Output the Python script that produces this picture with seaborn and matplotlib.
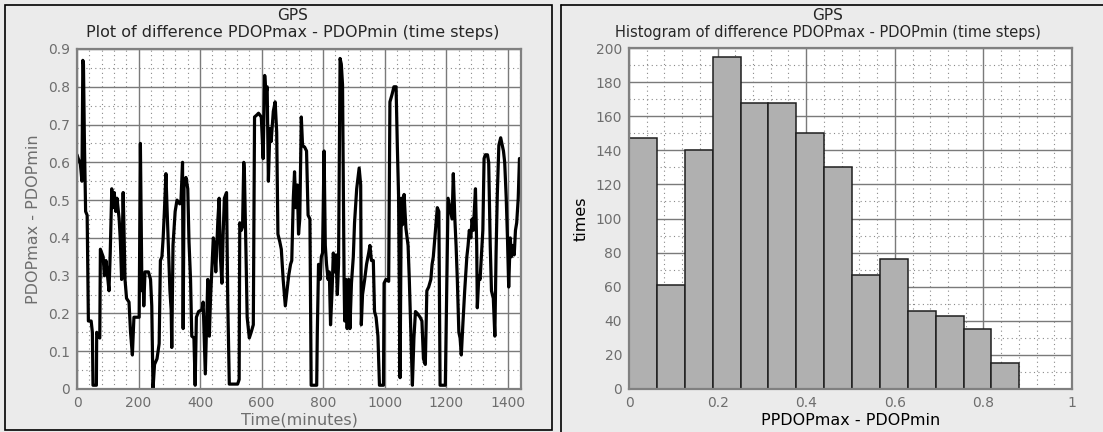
import numpy as np
import pandas as pd
import matplotlib
matplotlib.use("Agg")
import matplotlib.pyplot as plt
from matplotlib.patches import Rectangle
from matplotlib.lines import Line2D
from matplotlib.ticker import MultipleLocator
import seaborn as sns

# PDOPmax - PDOPmin over one day (minutes since midnight)
minutes = [
    0, 4, 11, 16, 19, 21, 24, 28, 33, 37, 46, 50, 52, 63, 64, 70, 74, 76, 85, 89,
    94, 98, 104, 108, 113, 117, 121, 126, 130, 137, 141, 145, 150, 152, 156, 161, 169, 174, 180, 185,
    195, 202, 206, 211, 215, 217, 221, 232, 239, 243, 247, 252, 260, 267, 271, 276, 280, 284, 289, 293,
    297, 302, 306, 308, 312, 319, 325, 334, 338, 343, 345, 348, 354, 360, 364, 369, 373, 380, 384, 388,
    395, 406, 410, 417, 421, 425, 430, 434, 438, 443, 447, 451, 458, 462, 466, 471, 475, 479, 486, 490,
    495, 522, 527, 529, 534, 538, 542, 544, 549, 553, 560, 566, 573, 577, 584, 590, 599, 605, 610, 614,
    618, 622, 627, 631, 638, 644, 649, 653, 659, 664, 670, 677, 681, 688, 694, 698, 703, 707, 711, 716,
    720, 724, 729, 733, 740, 746, 751, 757, 761, 779, 781, 785, 790, 794, 798, 803, 807, 811, 816, 820,
    824, 829, 833, 837, 842, 846, 850, 855, 859, 863, 868, 870, 874, 878, 883, 887, 892, 898, 902, 909,
    917, 922, 924, 928, 935, 941, 948, 952, 957, 963, 967, 972, 978, 983, 996, 998, 1004, 1013, 1017, 1024,
    1030, 1037, 1041, 1045, 1050, 1054, 1058, 1063, 1069, 1076, 1080, 1085, 1090, 1095, 1100, 1106, 1115, 1121, 1126, 1132,
    1137, 1143, 1150, 1154, 1158, 1165, 1171, 1176, 1180, 1197, 1202, 1206, 1212, 1219, 1223, 1228, 1232, 1236, 1241, 1245,
    1249, 1254, 1260, 1267, 1271, 1275, 1280, 1284, 1288, 1295, 1299, 1301, 1306, 1310, 1314, 1319, 1323, 1327, 1334, 1338,
    1343, 1347, 1353, 1358, 1362, 1366, 1371, 1377, 1382, 1386, 1390, 1395, 1399, 1403, 1408, 1412, 1416, 1421, 1425, 1429,
    1434, 1438, 1440,
]
pdop_diff = [
    0.62, 0.61, 0.595, 0.55, 0.87, 0.86, 0.66, 0.47, 0.46, 0.18, 0.18, 0.15, 0.01, 0.01, 0.15, 0.14, 0.135, 0.37, 0.35, 0.30,
    0.34, 0.31, 0.26, 0.36, 0.53, 0.48, 0.52, 0.47, 0.505, 0.45, 0.39, 0.29, 0.52, 0.45, 0.29, 0.24, 0.23, 0.15, 0.09, 0.19,
    0.19, 0.19, 0.65, 0.26, 0.29, 0.22, 0.31, 0.31, 0.29, 0.22, 0.00, 0.065, 0.08, 0.12, 0.34, 0.35, 0.40, 0.47, 0.57, 0.47,
    0.38, 0.26, 0.21, 0.11, 0.38, 0.47, 0.50, 0.49, 0.50, 0.60, 0.16, 0.54, 0.56, 0.53, 0.39, 0.29, 0.14, 0.135, 0.01, 0.19,
    0.205, 0.21, 0.23, 0.04, 0.16, 0.29, 0.14, 0.24, 0.31, 0.40, 0.38, 0.31, 0.45, 0.505, 0.35, 0.28, 0.41, 0.505, 0.52, 0.23,
    0.013, 0.013, 0.025, 0.44, 0.42, 0.43, 0.60, 0.575, 0.37, 0.19, 0.135, 0.15, 0.17, 0.72, 0.725, 0.73, 0.72, 0.61, 0.83, 0.78,
    0.80, 0.55, 0.69, 0.655, 0.735, 0.76, 0.68, 0.41, 0.39, 0.37, 0.29, 0.22, 0.25, 0.30, 0.33, 0.34, 0.505, 0.575, 0.48, 0.54,
    0.41, 0.45, 0.72, 0.645, 0.64, 0.63, 0.46, 0.45, 0.01, 0.01, 0.15, 0.33, 0.29, 0.35, 0.36, 0.63, 0.38, 0.33, 0.29, 0.31,
    0.17, 0.26, 0.36, 0.31, 0.355, 0.25, 0.33, 0.875, 0.86, 0.805, 0.29, 0.18, 0.29, 0.16, 0.29, 0.16, 0.28, 0.35, 0.44, 0.53,
    0.585, 0.54, 0.17, 0.25, 0.29, 0.33, 0.36, 0.38, 0.34, 0.34, 0.205, 0.19, 0.14, 0.01, 0.01, 0.28, 0.29, 0.285, 0.76, 0.78,
    0.80, 0.80, 0.645, 0.515, 0.03, 0.505, 0.435, 0.515, 0.425, 0.38, 0.29, 0.15, 0.01, 0.135, 0.205, 0.20, 0.19, 0.18, 0.08, 0.065,
    0.26, 0.27, 0.29, 0.33, 0.35, 0.42, 0.48, 0.47, 0.01, 0.01, 0.29, 0.505, 0.48, 0.45, 0.57, 0.45, 0.38, 0.29, 0.15, 0.135,
    0.09, 0.17, 0.26, 0.35, 0.38, 0.42, 0.40, 0.45, 0.42, 0.53, 0.38, 0.215, 0.30, 0.29, 0.35, 0.42, 0.61, 0.62, 0.62, 0.60,
    0.38, 0.26, 0.24, 0.14, 0.36, 0.515, 0.645, 0.665, 0.645, 0.63, 0.60, 0.505, 0.40, 0.27, 0.40, 0.35, 0.38, 0.355, 0.42, 0.44,
    0.505, 0.61, 0.61,
]

# Histogram of the difference: 14 equal bins from 0 to 0.881
hist_lo, hist_hi, hist_nbins = 0.0, 0.881, 14
hist_counts = [147, 61, 140, 195, 168, 168, 150, 130, 67, 76, 46, 43, 35, 15]

sns.set_style("white")
plt.rcParams["font.family"] = ["DejaVu Sans"]

W, H = 1103, 432
BG = "#ebebeb"
GRID = "#7a7a7a"
TICKC = "#6e6e6e"

fig = plt.figure(figsize=(W / 100, H / 100), dpi=100, facecolor=BG)


def px_axes(x0, y0, x1, y1):
    return fig.add_axes([x0 / W, 1 - y1 / H, (x1 - x0) / W, (y1 - y0) / H])


def style_axes(ax):
    ax.set_facecolor("white")
    for s in ax.spines.values():
        s.set_visible(True)
        s.set_color("#808080")
        s.set_linewidth(1.6)
    ax.grid(which="major", color=GRID, linewidth=1.0, linestyle="-")
    ax.grid(which="minor", color="#8a8a8a", linewidth=0.8, linestyle=(0, (1, 3)))
    ax.set_axisbelow(True)
    ax.tick_params(which="both", length=0, pad=5, labelsize=10, labelcolor=TICKC)


# Time series panel
ax1 = px_axes(77, 49, 521, 389)
series = pd.DataFrame({"minute": minutes, "diff": pdop_diff})
sns.lineplot(data=series, x="minute", y="diff", ax=ax1, color="black", linewidth=2.3,
             estimator=None, sort=False)
ax1.set_xlim(0, 1443)
ax1.set_ylim(0, 0.9)
ax1.xaxis.set_minor_locator(MultipleLocator(40))
ax1.yaxis.set_minor_locator(MultipleLocator(0.05))
ax1.set_xticks([0, 200, 400, 600, 800, 1000, 1200, 1400])
ax1.set_xticklabels(["0", "200", "400", "600", "800", "1000", "1200", "1400"])
ax1.set_yticks(np.round(np.arange(0, 0.91, 0.1), 1))
ax1.set_yticklabels(["0"] + [f"{v:.1f}" for v in np.arange(0.1, 0.91, 0.1)])
style_axes(ax1)
ax1.set_xlabel("Time(minutes)", fontsize=11.5, color=TICKC, labelpad=2)
ax1.set_ylabel("PDOPmax - PDOPmin", fontsize=11.5, color=TICKC, labelpad=5)

# Histogram panel
ax2 = px_axes(629, 48, 1072, 389)
edges = np.linspace(hist_lo, hist_hi, hist_nbins + 1)
hist_df = pd.DataFrame({"center": (edges[:-1] + edges[1:]) / 2,
                        "count": np.asarray(hist_counts, dtype=float)})
sns.histplot(data=hist_df, x="center", weights="count", bins=list(edges), ax=ax2,
             color="#b0b0b0", edgecolor="#1e1e1e", linewidth=1.1, alpha=1.0)
ax2.set_xlim(0, 1)
ax2.set_ylim(0, 200)
ax2.xaxis.set_minor_locator(MultipleLocator(0.04))
ax2.yaxis.set_major_locator(MultipleLocator(20))
ax2.yaxis.set_minor_locator(MultipleLocator(10))
ax2.set_xticks([0, 0.2, 0.4, 0.6, 0.8, 1.0])
ax2.set_xticklabels(["0", "0.2", "0.4", "0.6", "0.8", "1"])
style_axes(ax2)
ax2.set_xlabel("PPDOPmax - PDOPmin", fontsize=11.5, color="black", labelpad=2)
ax2.set_ylabel("times", fontsize=11.5, color="black", labelpad=5)

# Titles
fig.text(293 / W, 1 - 15 / H, "GPS", ha="center", va="center", fontsize=11)
fig.text(293 / W, 1 - 33 / H, "Plot of difference PDOPmax - PDOPmin (time steps)",
         ha="center", va="center", fontsize=11.5)
fig.text(828 / W, 1 - 15 / H, "GPS", ha="center", va="center", fontsize=11)
fig.text(828 / W, 1 - 33 / H, "Histogram of difference PDOPmax - PDOPmin (time steps)",
         ha="center", va="center", fontsize=10.5)

# Panel frames
fig.add_artist(Rectangle((5 / W, 1 - 430 / H), (552 - 5) / W, (430 - 5) / H,
                         transform=fig.transFigure, fill=False, ec="black", lw=1.2))
fig.add_artist(Line2D([561 / W, 561 / W], [0, 1 - 5 / H], transform=fig.transFigure,
                      color="black", lw=1.2))
fig.add_artist(Line2D([561 / W, 1], [1 - 5 / H, 1 - 5 / H], transform=fig.transFigure,
                      color="black", lw=1.2))

fig.savefig("out.png", dpi=100, facecolor=BG)
